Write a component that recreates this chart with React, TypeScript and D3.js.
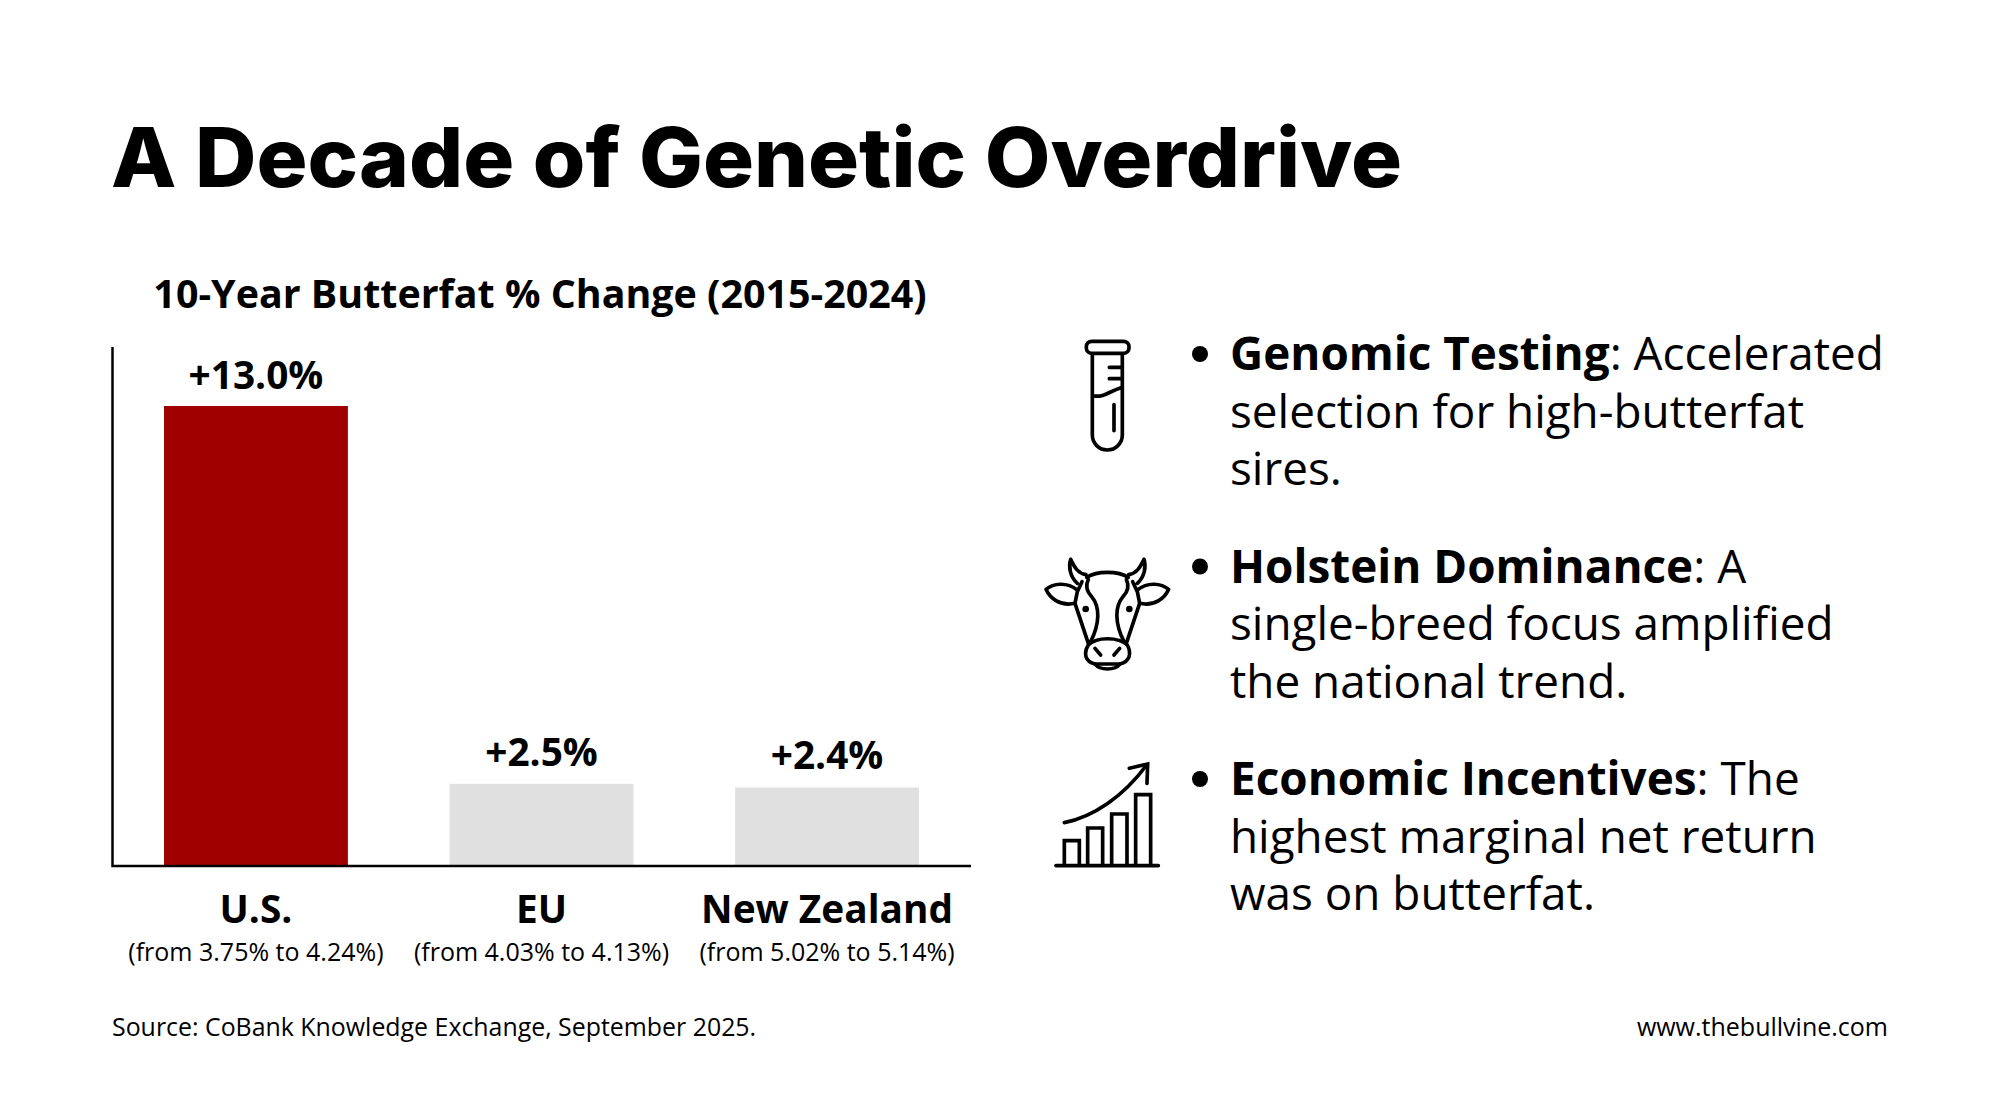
import React from "react";
import * as d3 from "d3";

const title = "A Decade of Genetic Overdrive";
const chartTitle = "10-Year Butterfat % Change (2015-2024)";
const categories = ["U.S.", "EU", "New Zealand"];
const changes = [13.0, 2.5, 2.4];
const valueLabels = ["+13.0%", "+2.5%", "+2.4%"];
const ranges = ["(from 3.75% to 4.24%)", "(from 4.03% to 4.13%)", "(from 5.02% to 5.14%)"];
const barColors = ["#a00000", "#e0e0e0", "#e0e0e0"];
const bulletHeads = ["Genomic Testing", "Holstein Dominance", "Economic Incentives"];
const bulletFirst = [": Accelerated", ": A", ": The"];
const bulletRest = [
  ["selection for high-butterfat", "sires."],
  ["single-breed focus amplified", "the national trend."],
  ["highest marginal net return", "was on butterfat."],
];
const source = "Source: CoBank Knowledge Exchange, September 2025.";
const site = "www.thebullvine.com";

const INK = "#000";
const SANS = "'Open Sans', sans-serif";
const HEAD = "Inter, sans-serif";

const Tube = () => (
  <g transform="translate(1020,310) scale(0.3333)" fill="none" stroke={INK} strokeWidth={11} strokeLinecap="round">
    <rect x={199} y={94} width={128} height={36} rx={16} />
    <path d="M217 132V375A45 45 0 0 0 307 375V132" />
    <path d="M220 258C255 262 265 245 303 233" />
    <path d="M268 172H303M268 206H303" />
    <path d="M282 284V362" />
  </g>
);

const half =
  "M172 130C150 110 145 80 152 58C165 85 175 100 198 104" +
  "M172 150C140 125 100 130 78 148C90 175 120 200 165 190" +
  "M186 125L172 155L165 190L205 310" +
  "M205 118C195 140 200 155 215 170C240 200 240 250 212 305" +
  "M225 325L242 345";

const Cow = () => (
  <g transform="translate(1020,540) scale(0.3333)" fill="none" stroke={INK} strokeWidth={11} strokeLinecap="round" strokeLinejoin="round">
    <path d={half} />
    <path d={half} transform="translate(524,0) scale(-1,1)" />
    <path d="M200 112C230 92 295 92 325 112" />
    <path d="M205 315C230 290 295 290 322 315C335 340 330 365 300 372L225 372C195 365 190 340 205 315Z" />
    <path d="M225 372C240 392 285 392 300 372" />
    <circle cx={197} cy={207} r={10} fill={INK} stroke="none" />
    <circle cx={328} cy={207} r={10} fill={INK} stroke="none" />
  </g>
);

const Growth = () => (
  <g transform="translate(1020,740) scale(0.3333)" fill="none" stroke={INK} strokeWidth={11} strokeLinecap="round">
    <path d="M108 377H415" />
    <path d="M133 375V302H178V375" />
    <path d="M203 375V264H248V375" />
    <path d="M275 375V222H321V375" />
    <path d="M347 375V164H392V375" />
    <path d="M133 248C220 230 310 170 380 75" />
    <path d="M328 85L383 72L381 130" />
  </g>
);

const icons = [Tube, Cow, Growth];

export default function App() {
  const x = d3.scaleBand<string>().domain(categories).range([164, 919]).paddingInner(0.356).paddingOuter(0);
  const y = d3.scaleLinear().domain([0.19, 13]).range([866, 406]);
  const barW = x.bandwidth();
  return (
    <svg width={2000} height={1116} viewBox="0 0 2000 1116" style={{ position: "absolute", left: 0, top: 0, background: "#fff" }}>
      <text x={111} y={187} fontFamily={HEAD} fontWeight={800} fontSize={82} fill={INK} textLength={1291} lengthAdjust="spacingAndGlyphs">{title}</text>
      <text x={540} y={308} textAnchor="middle" fontFamily={SANS} fontWeight={700} fontSize={39.4} fill={INK}>{chartTitle}</text>

      {categories.map((c, i) => {
        const cx = (x(c) as number) + barW / 2;
        return (
          <g key={c}>
            <rect x={x(c)} y={y(changes[i]) + (i ? 0.8 : 0)} width={barW} height={866 - y(changes[i]) - (i ? 0.8 : 0)} fill={barColors[i]} />
            <text x={cx} y={y(changes[i]) - 17.5} textAnchor="middle" fontFamily={SANS} fontWeight={700} fontSize={38.8} fill={INK}>{valueLabels[i]}</text>
            <text x={cx} y={923} textAnchor="middle" fontFamily={SANS} fontWeight={700} fontSize={38.8} fill={INK}>{c}</text>
            <text x={cx} y={961} textAnchor="middle" fontFamily={SANS} fontSize={25} fill={INK}>{ranges[i]}</text>
          </g>
        );
      })}
      <path d="M112.5 347V866H971" fill="none" stroke={INK} strokeWidth={2.5} />

      {icons.map((Icon, i) => <Icon key={i} />)}
      {bulletHeads.map((h, i) => {
        const top = 370 + i * 212.5;
        return (
          <g key={h} fontFamily={SANS} fontSize={45.85} fill={INK}>
            <circle cx={1200} cy={top - 16} r={8} fill={INK} />
            <text x={1230} y={top}><tspan fontWeight={700}>{h}</tspan>{bulletFirst[i]}</text>
            {bulletRest[i].map((l, j) => <text key={j} x={1230} y={top + 57.5 * (j + 1)}>{l}</text>)}
          </g>
        );
      })}

      <text x={112} y={1036} fontFamily={SANS} fontSize={24.9} fill={INK}>{source}</text>
      <text x={1888} y={1036} textAnchor="end" fontFamily={SANS} fontSize={25} fill={INK}>{site}</text>
    </svg>
  );
}
